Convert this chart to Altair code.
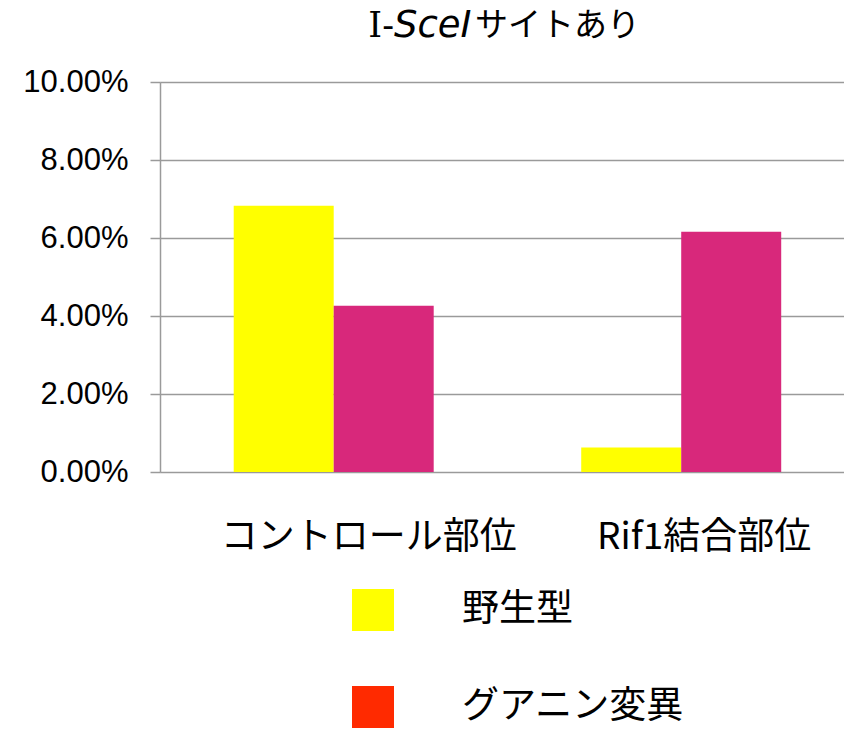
import altair as alt
import pandas as pd

categories = ["コントロール部位", "Rif1結合部位"]
series = ["野生型", "グアニン変異"]
wild_type = [0.0683, 0.0063]
guanine_mut = [0.0426, 0.0616]
bar_colors = ["#FFFF00", "#D8287B"]
legend_colors = ["#FFFF00", "#FF2A00"]
y_ticks = [0.0, 0.02, 0.04, 0.06, 0.08, 0.10]
title_parts = ["I-", "SceI", "サイトあり"]

rows = []
for i, c in enumerate(categories):
    rows.append({"site": c, "genotype": series[0], "value": wild_type[i]})
    rows.append({"site": c, "genotype": series[1], "value": guanine_mut[i]})
df = pd.DataFrame(rows)
df["key"] = df["genotype"]

JP = "Noto Sans CJK JP"

x_enc = alt.X(
    "site:N", sort=categories, title=None,
    scale=alt.Scale(paddingInner=0.4245, paddingOuter=0.1964, align=0.54),
    axis=alt.Axis(labelAngle=0, ticks=False, domain=False, labelFont=JP,
                  labelFontSize=37, labelColor="#000000", labelPadding=47,
                  labelOffset={"condition": {"test": f"datum.value == '{categories[1]}'",
                                             "value": 23},
                               "value": 35},
                  labelLimit=400),
)
y_enc = alt.Y(
    "value:Q", title=None,
    scale=alt.Scale(domain=[0, 0.1], nice=False),
    axis=alt.Axis(values=y_ticks, format=".2%", labelFont="Liberation Sans",
                  labelFontSize=31, labelColor="#000000", labelPadding=22,
                  tickSize=10, tickColor="#9A9A9A", tickWidth=1.5,
                  domainColor="#9A9A9A", domainWidth=1.5,
                  grid=True, gridColor="#9A9A9A", gridWidth=1.5),
)

bars = alt.Chart(df).mark_bar().encode(
    x=x_enc,
    xOffset=alt.XOffset("genotype:N", sort=series),
    y=y_enc,
    color=alt.Color("genotype:N", sort=series,
                    scale=alt.Scale(domain=series, range=bar_colors), legend=None),
)

legend_layer = alt.Chart(df).mark_square(opacity=0).encode(
    x=alt.X("site:N", sort=categories),
    y=alt.Y("value:Q"),
    fill=alt.Fill(
        "key:N", sort=series,
        scale=alt.Scale(domain=series, range=legend_colors),
        legend=alt.Legend(
            title=None, orient="none", legendX=192, legendY=507,
            direction="vertical", symbolType="square", symbolSize=1764,
            symbolOpacity=1, symbolStrokeWidth=0, labelFont=JP,
            labelFontSize=37, labelColor="#000000", labelOffset=68,
            rowPadding=55, padding=0, labelLimit=400,
        ),
    ),
)

def piece(txt, x, align, italic, font, size):
    return alt.Chart(pd.DataFrame({"t": [txt]})).mark_text(
        align=align, baseline="middle", fontSize=size, font=font,
        fontStyle="italic" if italic else "normal", color="#000000",
    ).encode(x=alt.value(x), y=alt.value(-56), text="t:N")

t1 = piece(title_parts[0], 234, "right", False, "DejaVu Serif", 35)
t2 = piece(title_parts[1], 234, "left", True, "DejaVu Sans", 37)
t3 = piece(title_parts[2], 480, "right", False, JP, 33)

chart = alt.layer(bars, legend_layer, t1, t2, t3).resolve_scale(
    color="independent", fill="independent"
).properties(
    width=684, height=390,
    autosize=alt.AutoSizeParams(type="none"),
    padding={"left": 160, "top": 82, "right": 0, "bottom": 259},
).configure_view(stroke=None).configure(background="#FFFFFF")

chart.save("out.html", embed_options={"renderer": "svg", "actions": False})
